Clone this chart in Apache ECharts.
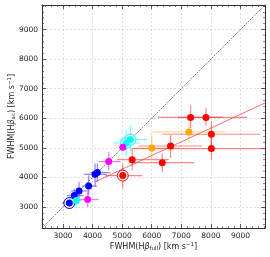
<!DOCTYPE html>
<html><head><meta charset="utf-8">
<script src="https://cdn.jsdelivr.net/npm/echarts@6/dist/echarts.min.js"></script>
<style>html,body{margin:0;padding:0;background:#fff}#c{width:270px;height:257px}</style>
</head><body><div id="c"></div>
<script>
// rows: [x, y, xLow, xHigh, yLow, yHigh]
const bluePts = [
  [3214, 3135, 2970, 3470, 2940, 3340],
  [3383, 3386, 3140, 3700, 3170, 3620],
  [3542, 3541, 3270, 3810, 3280, 3850],
  [3868, 3710, 3640, 4150, 3400, 4070],
  [4085, 4106, 3700, 4490, 3680, 4470],
  [4163, 4163, 3930, 4600, 3850, 4470]
];
const cyanPts = [
  [3451, 3216, 3300, 3640, 2950, 3400],
  [5136, 5165, 4720, 5600, 4750, 5600],
  [5281, 5280, 4900, 5850, 4900, 5760]
];
const magentaPts = [
  [3834, 3250, 3560, 4210, 3000, 3590],
  [4546, 4535, 4210, 4940, 4240, 4860],
  [5023, 5018, 4920, 5130, 4920, 5130]
];
const orangePts = [
  [6003, 4995, 5380, 6980, 4650, 5430],
  [7258, 5536, 6020, 8500, 5200, 5830]
];
const redPts = [
  [5020, 4062, 4430, 5680, 3620, 4470],
  [5339, 4601, 4830, 6580, 4240, 4990],
  [6356, 4500, 5280, 7430, 4180, 4810],
  [6637, 5063, 5560, 7710, 4660, 5430],
  [7315, 6030, 6210, 8400, 5660, 6440],
  [7834, 6030, 6900, 9210, 5760, 6340],
  [8017, 5460, 6360, 9660, 5090, 5900],
  [8017, 4975, 5340, 10500, 4600, 5350]
];
// circled (highlighted) objects
const circledPts = [
  [3214, 3135, '#0000ff'],
  [5136, 5165, '#00ffff'],
  [5281, 5280, '#00ffff'],
  [5020, 4062, '#ff0000']
];
const oneToOne = [[2290, 2290], [9830, 9830]];
const fitLine = [[4071, 3845], [9830, 6517]];
const axisMin = 2290, axisMax = 9830;

const groups = [
  {data: bluePts, color: '#0000ff', bar: 'rgba(40,40,255,0.55)'},
  {data: cyanPts, color: '#00ffff', bar: 'rgba(0,255,255,0.55)'},
  {data: magentaPts, color: '#ff00ff', bar: 'rgba(255,0,255,0.55)'},
  {data: orangePts, color: '#ffa500', bar: 'rgba(255,165,0,0.5)'},
  {data: redPts, color: '#ff0000', bar: 'rgba(255,40,40,0.55)'}
];

const font = 'DejaVu Sans';
const txt = '#222';
function mkAxis(pos, idx, showLab) {
  return {
    type: 'value', position: pos, min: axisMin, max: axisMax, splitNumber: 8,
    nameMoveOverlap: false,
    axisLine: {show: true, onZero: false, lineStyle: {color: '#333', width: 1}},
    axisTick: {show: true, inside: true, length: 4, lineStyle: {color: '#333', width: 0.8}},
    minorTick: {show: true, splitNumber: 5, length: 2, lineStyle: {color: '#333', width: 0.6}},
    axisLabel: {show: showLab, inside: false, margin: 4, color: txt, fontSize: 7.5, fontFamily: font,
      showMinLabel: false, showMaxLabel: false, formatter: v => String(Math.round(v))},
    splitLine: {show: idx === 0, lineStyle: {color: '#d0d0d0', type: [2, 2], width: 0.7}},
    minorSplitLine: {show: false}
  };
}
const rich = {
  a: {fontSize: 8, fontFamily: font, color: txt, lineHeight: 10},
  b: {fontSize: 8, fontFamily: font, color: txt, fontStyle: 'italic', lineHeight: 10},
  s: {fontSize: 5.5, fontFamily: font, color: txt, verticalAlign: 'bottom', lineHeight: 10},
  p: {fontSize: 5.5, fontFamily: font, color: txt, verticalAlign: 'top', lineHeight: 10}
};
const x0 = mkAxis('bottom', 0, true);
x0.name = '{a|FWHM(H}{b|β}{s|full}{a|) [km s}{p|−1}{a|]}';
x0.nameLocation = 'middle'; x0.nameGap = 14;
x0.nameTextStyle = {rich: rich};
const y0 = mkAxis('left', 0, true);
y0.name = '{a|FWHM(H}{b|β}{s|ac}{a|) [km s}{p|−1}{a|]}';
y0.nameLocation = 'middle'; y0.nameGap = 25; y0.nameRotate = 90;
y0.nameTextStyle = {rich: rich};
const x1 = mkAxis('top', 1, false);
const y1 = mkAxis('right', 1, false);

const series = [];
series.push({type: 'line', data: oneToOne, symbol: 'none', silent: true,
  lineStyle: {color: '#555', width: 0.7, type: [2, 1]}, z: 1});
series.push({type: 'line', data: fitLine, symbol: 'none', silent: true,
  lineStyle: {color: 'rgba(255,60,60,0.75)', width: 1}, z: 1});
groups.forEach(g => {
  series.push({
    type: 'custom', data: g.data, z: 2, silent: true,
    renderItem: function (params, api) {
      const p = api.coord([api.value(0), api.value(1)]);
      const xl = api.coord([api.value(2), api.value(1)]);
      const xh = api.coord([api.value(3), api.value(1)]);
      const yl = api.coord([api.value(0), api.value(4)]);
      const yh = api.coord([api.value(0), api.value(5)]);
      const st = {stroke: g.bar, lineWidth: 1.2};
      return {type: 'group', children: [
        {type: 'line', shape: {x1: xl[0], y1: p[1], x2: xh[0], y2: p[1]}, style: st},
        {type: 'line', shape: {x1: p[0], y1: yl[1], x2: p[0], y2: yh[1]}, style: st}
      ]};
    },
    clip: true
  });
});
series.push({type: 'custom', data: circledPts, z: 3, silent: true,
  renderItem: function (params, api) {
    const p = api.coord([api.value(0), api.value(1)]);
    const c = circledPts[params.dataIndex][2];
    return {type: 'circle', shape: {cx: p[0], cy: p[1], r: 5.5},
      style: {fill: 'rgba(255,255,255,0.75)', stroke: c, lineWidth: 1}};
  }});
groups.forEach(g => {
  series.push({type: 'scatter', data: g.data.map(r => [r[0], r[1]]), symbol: 'circle', symbolSize: 7,
    itemStyle: {color: g.color, opacity: 1}, z: 4, silent: true});
});

const chart = echarts.init(document.getElementById('c'), null, {renderer: 'canvas'});
chart.setOption({
  animation: false,
  grid: {left: 42, right: 5, top: 5, bottom: 29, containLabel: false, outerBoundsMode: 'none'},
  xAxis: [x0, x1], yAxis: [y0, y1], series: series
});
</script></body></html>
